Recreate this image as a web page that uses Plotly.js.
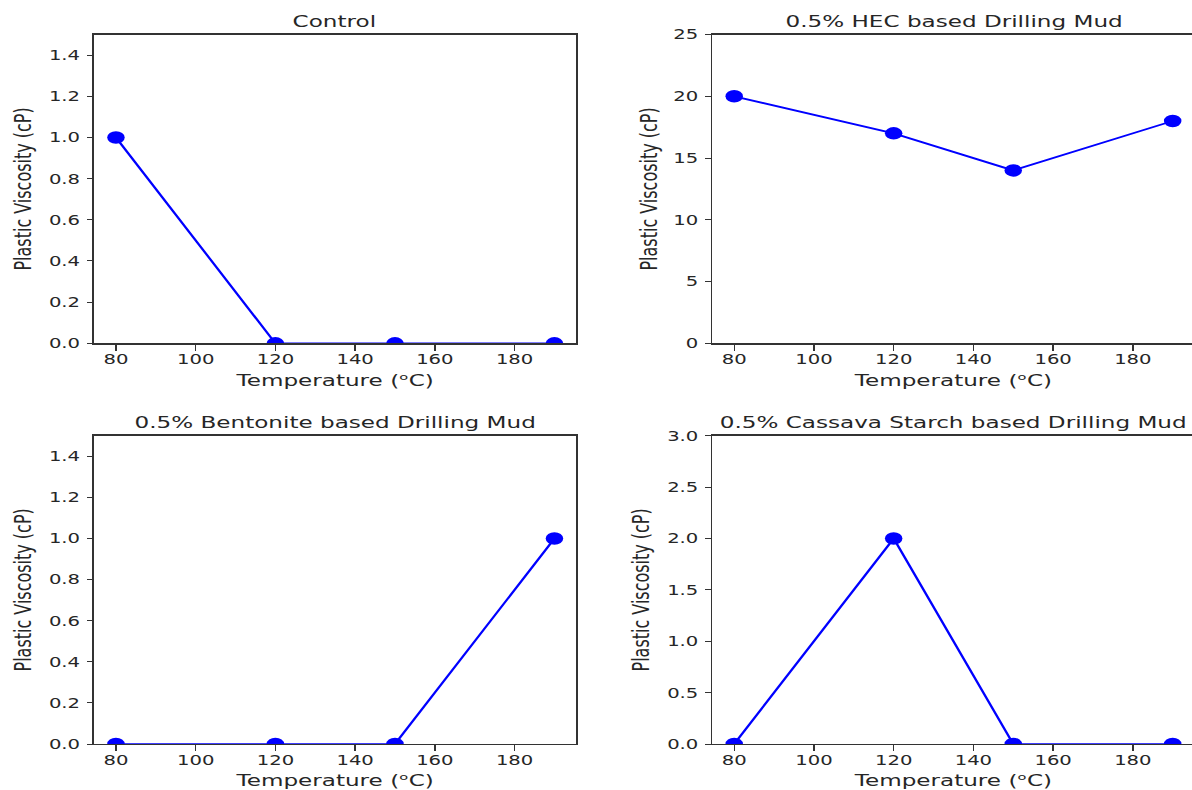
<!DOCTYPE html>
<html>
<head>
<meta charset="utf-8">
<script src="https://cdn.plot.ly/plotly-3.0.1.min.js"></script>
<style>
  html, body { margin: 0; padding: 0; overflow: hidden; background: #ffffff; }
  /* the figure is laid out narrow and widened horizontally */
  #chart { width: 860px; height: 790px; transform: scaleX(1.4); transform-origin: 0 0; }
</style>
</head>
<body>
<div id="chart"></div>
<script>
// Plastic viscosity of the drilling muds at each test temperature
const temperature = [80, 120, 150, 190];
const control = [1, 0, 0, 0];
const hec = [20, 17, 14, 18];
const bentonite = [0, 0, 0, 1];
const cassava = [0, 2, 0, 0];

const panelTitles = [
  'Control',
  '0.5% HEC based Drilling Mud',
  '0.5% Bentonite based Drilling Mud',
  '0.5% Cassava Starch based Drilling Mud'
];
const xTicks = [80, 100, 120, 140, 160, 180];
const xLabel = 'Temperature (\u1D52C)';
const yLabel = 'Plastic Viscosity (cP)';

const FONT = 'DejaVu Sans, sans-serif';
const INK = '#262626';
const BLUE = '#0000ff';

// panel placement in paper coordinates
const colDomains = [[0.0781, 0.4787], [0.5916, 0.9922]];
const rowDomains = [[0.5654, 0.9563], [0.0582, 0.4485]];

const panels = [
  { y: control,   row: 0, col: 0, yRange: [0, 1.5], dtick: 0.2, fmt: '.1f', standoff: 8 },
  { y: hec,       row: 0, col: 1, yRange: [0, 25],  dtick: 5,   fmt: 'd',   standoff: 7 },
  { y: bentonite, row: 1, col: 0, yRange: [0, 1.5], dtick: 0.2, fmt: '.1f', standoff: 8 },
  { y: cassava,   row: 1, col: 1, yRange: [0, 3],   dtick: 0.5, fmt: '.1f', standoff: 8 }
];

const traces = [];
const layout = {
  width: 860,
  height: 790,
  margin: { l: 0, r: 0, t: 0, b: 0 },
  paper_bgcolor: '#ffffff',
  plot_bgcolor: '#ffffff',
  showlegend: false,
  font: { family: FONT, color: INK, size: 14 },
  annotations: []
};

panels.forEach((p, i) => {
  const n = i === 0 ? '' : String(i + 1);
  traces.push({
    type: 'scatter',
    mode: 'lines+markers',
    x: temperature,
    y: p.y,
    xaxis: 'x' + n,
    yaxis: 'y' + n,
    line: { color: BLUE, width: 1.8 },
    marker: { color: BLUE, size: 12.5 },
    cliponaxis: true
  });

  layout['xaxis' + n] = {
    domain: colDomains[p.col],
    anchor: 'y' + n,
    range: [74.5, 195.5],
    tickvals: xTicks,
    ticks: 'outside',
    ticklen: 6,
    tickwidth: 1,
    tickcolor: '#333333',
    ticklabelstandoff: -3,
    showline: true,
    linecolor: '#333333',
    linewidth: 1.2,
    mirror: true,
    showgrid: false,
    zeroline: false,
    tickfont: { family: FONT, size: 14, color: INK },
    title: { text: xLabel, font: { family: FONT, size: 16.5, color: INK }, standoff: 8 }
  };

  layout['yaxis' + n] = {
    domain: rowDomains[p.row],
    anchor: 'x' + n,
    range: p.yRange,
    dtick: p.dtick,
    tick0: 0,
    tickformat: p.fmt,
    ticks: 'outside',
    ticklen: 4,
    tickwidth: 1,
    tickcolor: '#333333',
    ticklabelstandoff: 2,
    showline: true,
    linecolor: '#333333',
    linewidth: 1.2,
    mirror: true,
    showgrid: false,
    zeroline: false,
    tickfont: { family: FONT, size: 14, color: INK },
    title: { text: yLabel, font: { family: FONT, size: 16, color: INK }, standoff: p.standoff }
  };

  const d = colDomains[p.col];
  layout.annotations.push({
    text: panelTitles[i],
    xref: 'paper',
    yref: 'paper',
    x: (d[0] + d[1]) / 2,
    y: rowDomains[p.row][1],
    xanchor: 'center',
    yanchor: 'bottom',
    yshift: 2,
    showarrow: false,
    font: { family: FONT, size: 16.5, color: INK }
  });
});

Plotly.newPlot('chart', traces, layout, { staticPlot: true, displayModeBar: false });
</script>
</body>
</html>
